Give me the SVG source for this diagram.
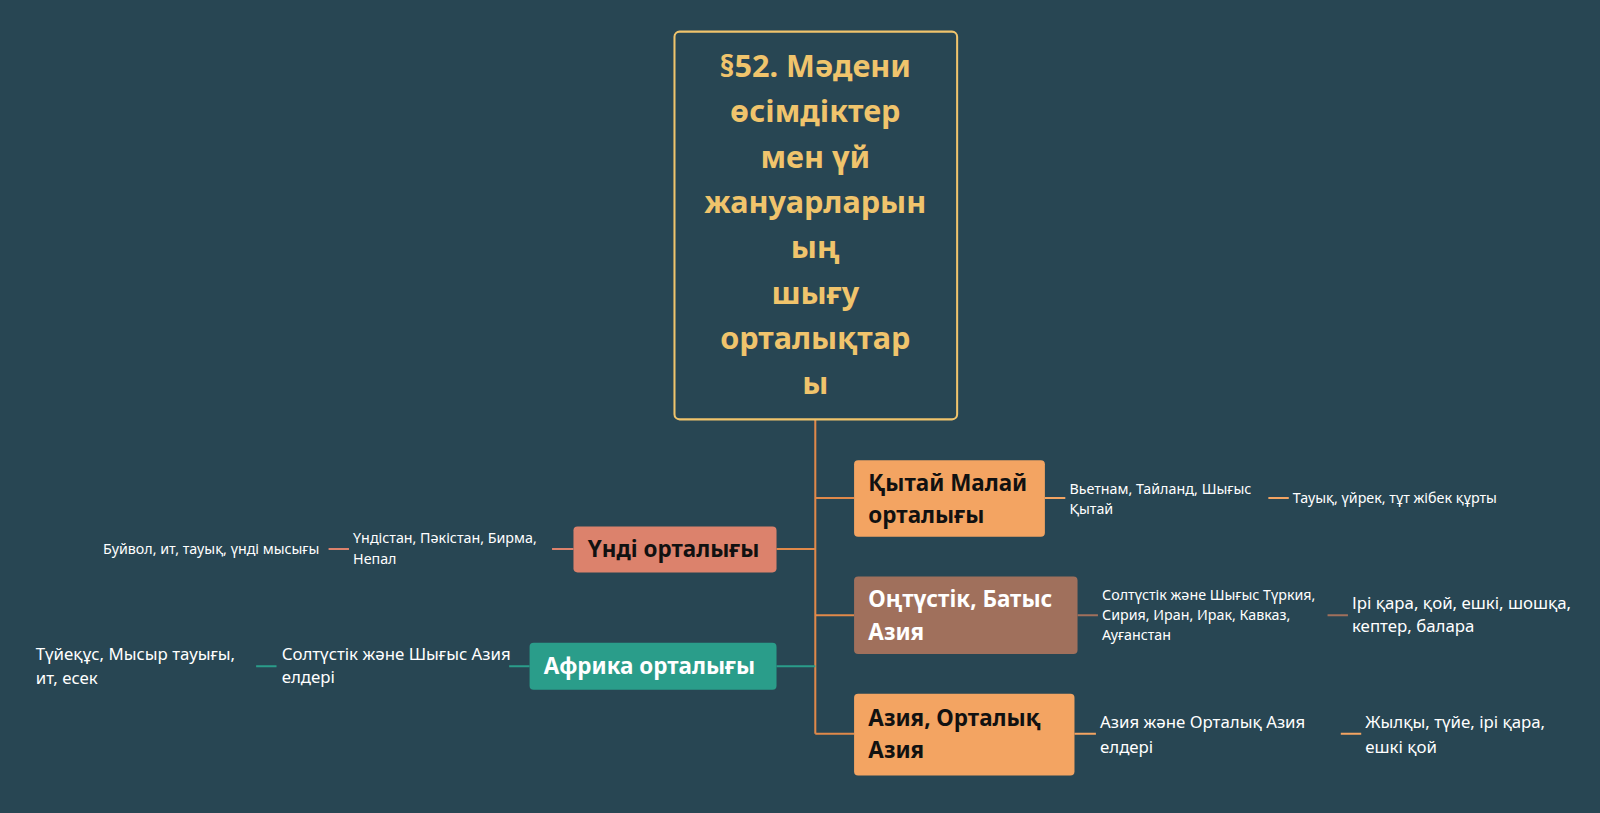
<svg xmlns="http://www.w3.org/2000/svg" width="1600" height="813" viewBox="0 0 1600 813">
<style>
text{font-family:"Noto Sans","Liberation Sans",sans-serif}
.t{font-size:22px;font-weight:bold}
.s{fill:#ffffff;font-size:14px}
.m{fill:#ffffff;font-size:16.5px}
.c{fill:none;stroke-width:2}
</style>
<rect width="1600" height="813" fill="#284653"/>
<g transform="scale(1.0204)">
<g id="connectors">
<path class="c" stroke="#e0894a" d="M799 411V719M799 488H837M799 603H837M799 719H837M761 538H799"/>
<path class="c" stroke="#2a9d8a" d="M761 653H799M499 653H519M251 653H271"/>
<path class="c" stroke="#dc826c" d="M541 538H562M322 538H342"/>
<path class="c" stroke="#f3a462" d="M1024 488H1044M1243 488H1263M1053 719H1074M1314 719H1334"/>
<path class="c" stroke="#a0705c" d="M1056 603H1076M1301 603H1321"/>
</g>
<g id="root">
<rect x="661" y="31" width="277" height="380" rx="5" fill="#284653" stroke="#f0c46c" stroke-width="2"/>
<text fill="#f0c46c" font-size="30" font-weight="bold" text-anchor="middle">
<tspan x="799" y="75">§52. Мәдени</tspan><tspan x="799" y="120">өсімдіктер</tspan><tspan x="799" y="165">мен үй</tspan><tspan x="799" y="209">жануарларын</tspan><tspan x="799" y="253">ың</tspan><tspan x="799" y="298">шығу</tspan><tspan x="799" y="342">орталықтар</tspan><tspan x="799" y="386">ы</tspan>
</text>
</g>
<g id="qytai">
<rect x="837" y="451" width="187" height="75" rx="4" fill="#f3a462"/>
<text class="t" fill="#111"><tspan x="851" y="481">Қытай Малай</tspan><tspan x="851" y="513">орталығы</tspan></text>
<text class="s"><tspan x="1048" y="484">Вьетнам, Тайланд, Шығыс</tspan><tspan x="1048" y="504">Қытай</tspan></text>
<text class="s" x="1267" y="493">Тауық, үйрек, тұт жібек құрты</text>
</g>
<g id="ontustik">
<rect x="837" y="565" width="219" height="76" rx="4" fill="#a0705c"/>
<text class="t" fill="#fff"><tspan x="851" y="595">Оңтүстік, Батыс</tspan><tspan x="851" y="627">Азия</tspan></text>
<text class="s" font-size="13.5"><tspan x="1080" y="588">Солтүстік және Шығыс Түркия,</tspan><tspan x="1080" y="608">Сирия, Иран, Ирак, Кавказ,</tspan><tspan x="1080" y="627">Ауғанстан</tspan></text>
<text class="m"><tspan x="1325" y="597">Ірі қара, қой, ешкі, шошқа,</tspan><tspan x="1325" y="619">кептер, балара</tspan></text>
</g>
<g id="azia">
<rect x="837" y="680" width="216" height="80" rx="4" fill="#f3a462"/>
<text class="t" fill="#111"><tspan x="851" y="711">Азия, Орталық</tspan><tspan x="851" y="743">Азия</tspan></text>
<text class="m" font-size="17"><tspan x="1078" y="713">Азия және Орталық Азия</tspan><tspan x="1078" y="738">елдері</tspan></text>
<text class="m" font-size="17"><tspan x="1338" y="713">Жылқы, түйе, ірі қара,</tspan><tspan x="1338" y="738">ешкі қой</tspan></text>
</g>
<g id="undi">
<rect x="562" y="516" width="199" height="45" rx="4" fill="#dc826c"/>
<text class="t" fill="#111" x="576" y="546">Үнді орталығы</text>
<text class="s"><tspan x="346" y="532">Үндістан, Пәкістан, Бирма,</tspan><tspan x="346" y="553">Непал</tspan></text>
<text class="s" font-size="13" x="313" y="543" text-anchor="end">Буйвол, ит, тауық, үнді мысығы</text>
</g>
<g id="afrika">
<rect x="519" y="630" width="242" height="46" rx="4" fill="#2a9d8a"/>
<text class="t" fill="#fff" x="533" y="661">Африка орталығы</text>
<text class="m" font-size="15"><tspan x="276" y="647">Солтүстік және Шығыс Азия</tspan><tspan x="276" y="669">елдері</tspan></text>
<text class="m" font-size="17"><tspan x="35" y="647">Түйеқұс, Мысыр тауығы,</tspan><tspan x="35" y="670">ит, есек</tspan></text>
</g>
</g>
</svg>
